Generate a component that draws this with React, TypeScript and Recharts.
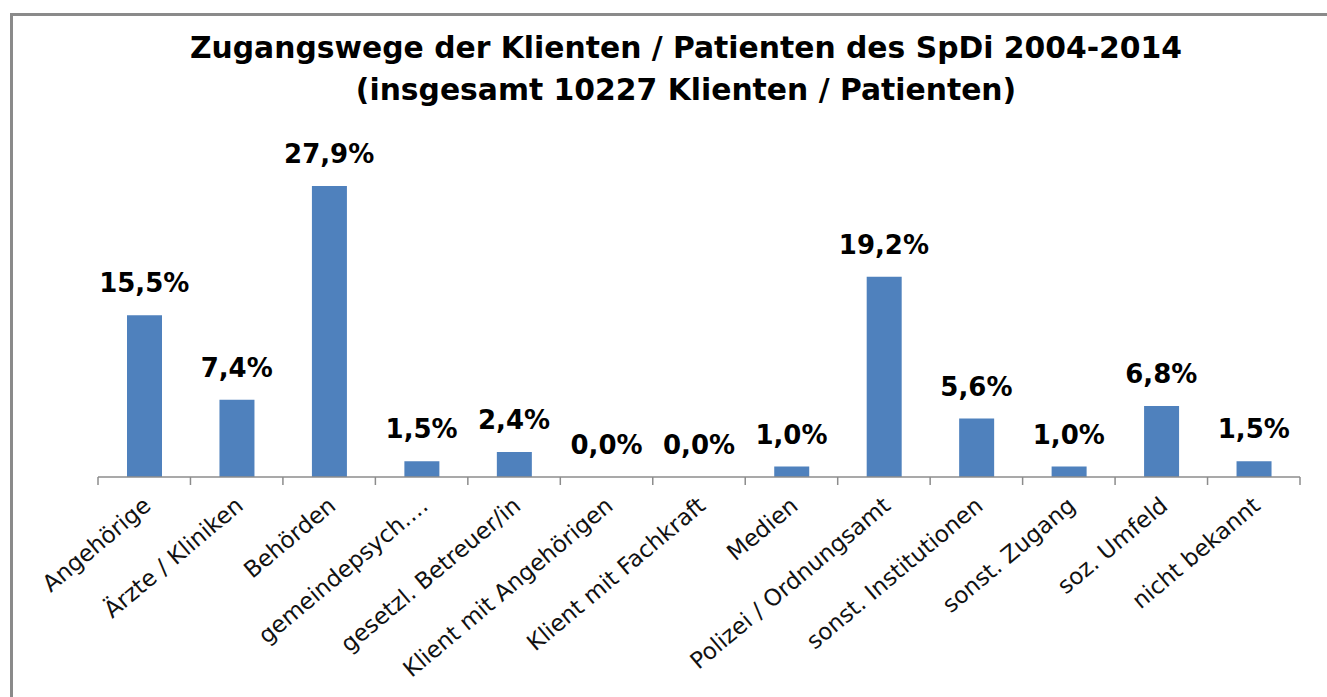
import React from 'react';
import { ComposedChart, Bar, Line, XAxis, YAxis, LabelList } from 'recharts';

const categories = [
  'Angehörige',
  'Ärzte / Kliniken',
  'Behörden',
  'gemeindepsych.…',
  'gesetzl. Betreuer/in',
  'Klient mit Angehörigen',
  'Klient mit Fachkraft',
  'Medien',
  'Polizei / Ordnungsamt',
  'sonst. Institutionen',
  'sonst. Zugang',
  'soz. Umfeld',
  'nicht bekannt',
];
const shares = [15.5, 7.4, 27.9, 1.5, 2.4, 0.0, 0.0, 1.0, 19.2, 5.6, 1.0, 6.8, 1.5];
const titleLines = [
  'Zugangswege der Klienten / Patienten des SpDi 2004-2014',
  '(insgesamt 10227 Klienten / Patienten)',
];

const data = categories.map((name, i) => ({ name, value: shares[i] }));

const FONT = '"DejaVu Sans", sans-serif';
const AXIS_COLOR = '#8c8c8c';

const CatTick = (props: any) => {
  const { x, y, payload, width, index } = props;
  const half =
    payload && typeof payload.offset === 'number' && payload.offset > 0
      ? payload.offset
      : width / (2 * categories.length);
  const ax = x + 8;
  const ay = y + 31;
  const isLast = index === categories.length - 1;
  return (
    <g>
      <line
        x1={x - half}
        x2={x - half}
        y1={y}
        y2={y + 8}
        stroke={AXIS_COLOR}
        strokeWidth={1.5}
      />
      {isLast && (
        <line
          x1={x + half}
          x2={x + half}
          y1={y}
          y2={y + 8}
          stroke={AXIS_COLOR}
          strokeWidth={1.5}
        />
      )}
      <text
        x={ax}
        y={ay}
        transform={`rotate(-40, ${ax}, ${ay})`}
        textAnchor="end"
        fontFamily={FONT}
        fontSize={23}
        fill="#111"
      >
        {payload.value}
      </text>
    </g>
  );
};

const fmt = (v: any) => `${Number(v).toFixed(1).replace('.', ',')}%`;

export default function App() {
  return (
    <div
      style={{
        position: 'absolute',
        left: 0,
        top: 0,
        width: 1327,
        height: 697,
        overflow: 'hidden',
        background: '#fff',
      }}
    >
      <div
        style={{
          position: 'absolute',
          left: 10,
          top: 13,
          width: 1400,
          height: 800,
          border: '3px solid #8a8a8a',
          boxSizing: 'border-box',
        }}
      />
      <div
        style={{
          position: 'absolute',
          left: 186,
          top: 27,
          width: 1000,
          textAlign: 'center',
          fontFamily: FONT,
          fontWeight: 'bold',
          fontSize: 29.8,
          lineHeight: '42px',
          color: '#000',
          whiteSpace: 'nowrap',
        }}
      >
        {titleLines.map((t) => (
          <div key={t}>{t}</div>
        ))}
      </div>
      <div style={{ position: 'absolute', left: 0, top: 0 }}>
        <ComposedChart
          width={1327}
          height={697}
          data={data}
          margin={{ top: 164, right: 27, left: 98, bottom: 0 }}
        >
          <XAxis
            dataKey="name"
            type="category"
            interval={0}
            axisLine={{ stroke: AXIS_COLOR, strokeWidth: 1.5 }}
            tickLine={false}
            tickSize={0}
            tickMargin={0}
            height={220}
            tick={<CatTick />}
          />
          <YAxis hide domain={[0, 30]} />
          <Bar
            dataKey="value"
            fill="#4F81BD"
            barSize={35}
            isAnimationActive={false}
          />
          <Line
            dataKey="value"
            stroke="none"
            dot={false}
            activeDot={false}
            isAnimationActive={false}
          >
            <LabelList
              dataKey="value"
              position="top"
              offset={23}
              formatter={fmt}
              style={{
                fontFamily: FONT,
                fontWeight: 'bold',
                fontSize: 26,
                fill: '#000',
              }}
            />
          </Line>
        </ComposedChart>
      </div>
    </div>
  );
}
